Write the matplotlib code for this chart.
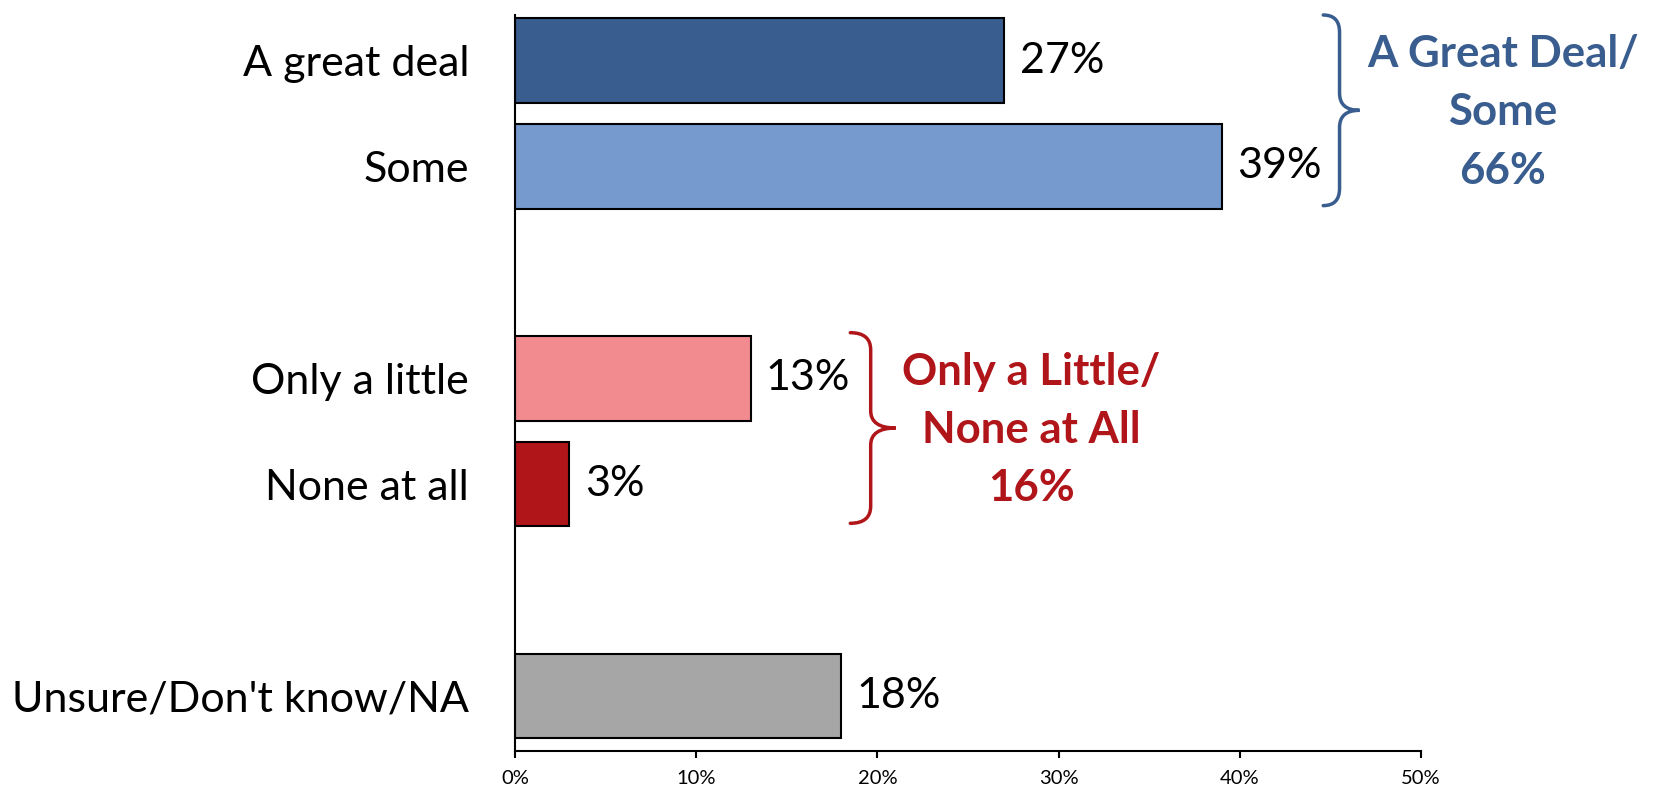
import numpy as np
import matplotlib
matplotlib.use("Agg")
import matplotlib.pyplot as plt
from matplotlib.path import Path
from matplotlib.patches import PathPatch

plt.rcParams['font.family'] = ['Lato', 'DejaVu Sans']

categories = ["A great deal", "Some", "Only a little", "None at all", "Unsure/Don't know/NA"]
values = [27, 39, 13, 3, 18]
positions = [0, 1, 3, 4, 6]
colors = ["#385D8E", "#769ACE", "#F28B8F", "#B0151A", "#A6A6A6"]

group_labels = ["A Great Deal/\nSome\n66%", "Only a Little/\nNone at All\n16%"]
group_members = [[0, 1], [2, 3]]
group_colors = ["#385D8E", "#B0151A"]

xticks = [0, 10, 20, 30, 40, 50]
xtick_labels = ["0%", "10%", "20%", "30%", "40%", "50%"]


def brace(ax, x0, x1, y0, y1, color):
    # curly brace opening to the left, tip pointing right
    xm = x0 + 0.45 * (x1 - x0)
    ym = (y0 + y1) / 2
    h = 0.09 * (y1 - y0)
    verts = [(x0, y0), (xm, y0), (xm, y0 + h),
             (xm, ym - h), (xm, ym), (x1, ym),
             (xm, ym), (xm, ym + h),
             (xm, y1 - h), (xm, y1), (x0, y1)]
    codes = [Path.MOVETO, Path.CURVE3, Path.CURVE3,
             Path.LINETO, Path.CURVE3, Path.CURVE3,
             Path.CURVE3, Path.CURVE3,
             Path.LINETO, Path.CURVE3, Path.CURVE3]
    ax.add_patch(PathPatch(Path(verts, codes), fill=False, edgecolor=color,
                           linewidth=2.5, clip_on=False, capstyle='round'))


fig = plt.figure(figsize=(16.53, 7.9), dpi=100)
ax = fig.add_axes([0.3116, 0.0494, 0.5481, 0.9316])

ax.barh(positions, values, height=0.8, color=colors, edgecolor="black", linewidth=1.5)

for p, v in zip(positions, values):
    ax.annotate(f"{v}%", (v, p), xytext=(11, 0), textcoords="offset points",
                ha="left", va="center", fontsize=31)

ax.set_xlim(0, 50)
ax.set_ylim(6.52, -0.43)
ax.set_xticks(xticks)
ax.set_xticklabels(xtick_labels, fontsize=14.5)
ax.set_yticks(positions)
ax.set_yticklabels(categories, fontsize=31)
ax.tick_params(axis="y", length=0, pad=33)
ax.tick_params(axis="x", length=5, width=1.5, direction="out", pad=9)

for s in ("top", "right"):
    ax.spines[s].set_visible(False)
for s in ("left", "bottom"):
    ax.spines[s].set_linewidth(1.5)

# group braces and totals
brace_specs = [(44.6, 46.6, 54.5), (18.5, 21.0, 28.5)]
for members, label, col, (bx0, bx1, tx) in zip(group_members, group_labels, group_colors, brace_specs):
    ys = [positions[m] for m in members]
    y0 = min(ys) - 0.43
    y1 = max(ys) + 0.37
    ax.text(tx, (y0 + y1) / 2 + 0.02, label, ha="center", va="center", fontsize=31.5,
            fontweight="bold", color=col, linespacing=1.55, clip_on=False)
    brace(ax, bx0, bx1, y0, y1, col)

fig.savefig("out.png", dpi=100)
